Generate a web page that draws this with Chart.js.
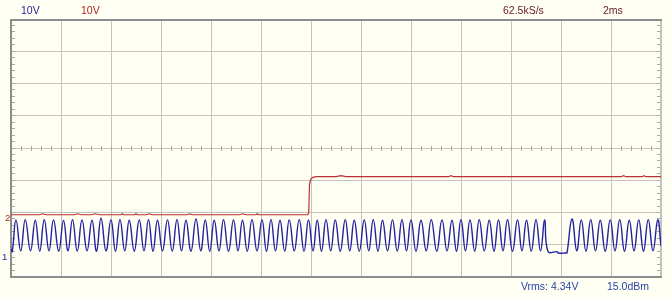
<!DOCTYPE html>
<html>
<head>
<meta charset="utf-8">
<script src="https://cdn.jsdelivr.net/npm/chart.js@4/dist/chart.umd.min.js"></script>
<style>
  body { margin: 0; background: #fffff3; }
  #wrap { position: relative; width: 672px; height: 299px; }
  .lbl { position: absolute; font: 10.5px "Liberation Sans", Arial, sans-serif; line-height: 12px; white-space: nowrap; }
  .mark { position: absolute; font: 9.5px "Liberation Sans", Arial, sans-serif; line-height: 10px; }
</style>
</head>
<body>
<div id="wrap">
  <canvas id="scope" width="672" height="299"></canvas>
  <div class="lbl" style="left:21px;top:4px;color:#1f1f8f">10V</div>
  <div class="lbl" style="left:81px;top:4px;color:#b22424">10V</div>
  <div class="lbl" style="left:503px;top:4px;color:#6a2030">62.5kS/s</div>
  <div class="lbl" style="left:603px;top:4px;color:#6a2030">2ms</div>
  <div class="lbl" style="left:521px;top:280px;color:#2a44a6">Vrms: 4.34V</div>
  <div class="lbl" style="left:607px;top:280px;color:#2a44a6">15.0dBm</div>
  <div class="mark" style="left:5px;top:213px;color:#b22424">2</div>
  <div class="mark" style="left:2px;top:252px;color:#1f1f8f">1</div>
</div>
<script>
// time in ms, 2 ms/div, 13 divisions
const timeTicks = [0, 2, 4, 6, 8, 10, 12, 14, 16, 18, 20, 22, 24, 26];

// channel 1 (blue), volts, read trough/peak by trough/peak
const ch1Times = [
  0.00, 0.05, 0.20, 0.39, 0.57, 0.78, 0.97, 1.15, 1.33, 1.52, 1.70, 1.91, 2.10, 2.28, 2.46, 2.65,
  2.84, 3.04, 3.24, 3.42, 3.60, 3.80, 4.00, 4.18, 4.36, 4.55, 4.73, 4.93, 5.13, 5.32, 5.50, 5.68,
  5.86, 6.06, 6.26, 6.45, 6.64, 6.82, 7.00, 7.20, 7.40, 7.59, 7.77, 7.95, 8.13, 8.32, 8.50, 8.70,
  8.90, 9.08, 9.26, 9.45, 9.64, 9.84, 10.04, 10.22, 10.40, 10.58, 10.76, 10.95, 11.13, 11.33, 11.53, 11.72,
  11.90, 12.08, 12.25, 12.42, 12.60, 12.79, 12.97, 13.17, 13.37, 13.55, 13.73, 13.93, 14.13, 14.31, 14.49, 14.68,
  14.86, 15.06, 15.26, 15.45, 15.64, 15.82, 16.00, 16.20, 16.40, 16.61, 16.81, 17.03, 17.24, 17.44, 17.64, 17.82,
  18.00, 18.18, 18.36, 18.55, 18.73, 18.93, 19.13, 19.32, 19.50, 19.68, 19.86, 20.06, 20.26, 20.44, 20.62, 20.81,
  21.00, 21.18, 21.35, 21.48, 21.84, 21.88, 22.20, 22.24, 22.44, 22.63, 22.81, 23.00, 23.19, 23.38, 23.57, 23.77,
  23.97, 24.16, 24.35, 24.54, 24.73, 24.92, 25.11, 25.30, 25.49, 25.68, 25.87, 26.00
];
const ch1Volts = [
  2.5, 1.7, 11.5, 1.9, 11.6, 1.9, 11.4, 1.8, 11.6, 1.9, 11.5, 1.8, 11.3, 1.9, 11.6, 1.8,
  11.5, 1.9, 11.4, 1.8, 12.0, 1.9, 11.5, 1.8, 11.6, 1.9, 11.4, 1.8, 11.5, 1.9, 11.6, 1.8,
  11.4, 1.9, 11.5, 1.8, 11.6, 1.9, 11.4, 1.8, 11.8, 1.9, 11.5, 1.8, 11.4, 1.9, 11.6, 1.8,
  11.5, 1.9, 11.4, 1.8, 11.6, 1.9, 11.5, 1.8, 11.6, 1.9, 11.4, 1.8, 11.5, 1.9, 11.6, 1.8,
  11.5, 1.9, 11.4, 1.8, 11.6, 1.9, 11.5, 1.8, 11.6, 1.9, 11.4, 1.8, 11.5, 1.9, 11.6, 1.8,
  11.4, 1.9, 11.5, 1.8, 11.6, 1.9, 11.5, 1.8, 11.4, 1.9, 11.6, 1.8, 11.5, 1.9, 11.4, 1.8,
  11.6, 1.9, 11.5, 1.8, 11.6, 1.9, 11.4, 1.8, 11.5, 1.9, 11.6, 1.8, 11.5, 1.9, 11.4, 1.8,
  11.6, 1.9, 11.5, 1.7, 1.65, 1.25, 1.25, 1.3, 11.8, 1.9, 11.5, 1.8, 11.6, 1.9, 11.4, 1.8,
  11.5, 1.9, 11.6, 1.8, 11.4, 1.9, 11.5, 1.8, 11.6, 1.9, 11.5, 3.4
];

// channel 2 (red), volts
const ch2Times = [
  0.00, 1.13, 1.27, 1.41, 2.53, 2.67, 2.81, 3.21, 3.37, 3.53, 4.40, 4.45, 4.50, 4.95, 5.00, 5.05,
  5.41, 5.53, 5.65, 7.05, 7.15, 7.25, 9.13, 9.27, 9.40, 9.80, 9.85, 9.90, 11.87, 11.91, 11.94, 11.99,
  12.07, 12.21, 13.00, 13.20, 13.40, 17.50, 17.60, 17.70, 24.40, 24.50, 24.60, 25.25, 25.32, 25.40, 26.00
];
const ch2Volts = [
  1.0, 1.0, 1.3, 1.0, 1.0, 1.3, 1.0, 1.0, 1.3, 1.0, 1.0, 1.3, 1.0, 1.0, 1.3, 1.0,
  1.0, 1.3, 1.0, 1.0, 1.3, 1.0, 1.0, 1.3, 1.0, 1.0, 1.3, 1.0, 1.0, 1.6, 10.5, 12.0,
  12.6, 12.8, 12.8, 13.1, 12.8, 12.8, 13.1, 12.8, 12.8, 13.1, 12.8, 12.8, 13.1, 12.8, 12.8
];

// ground markers, in divisions from the bottom of the screen
const ch1Offset = 0.62;
const ch2Offset = 1.83;
const voltsPerDiv = 10;

const toPoints = (ts, vs) => ts.map((t, i) => ({ x: t, y: vs[i] }));

const scopeDecor = {
  id: 'scopeDecor',
  beforeDatasetsDraw(chart) {
    const { ctx, chartArea: a, scales } = chart;
    const x = scales.x, y = scales.y;
    ctx.save();
    ctx.lineWidth = 1;
    ctx.strokeStyle = '#a9a9a1';
    ctx.beginPath();
    // small ticks on the centre line
    const cy = Math.round(y.getPixelForValue(4) - 0.5) + 0.5;
    for (let i = 1; i < 65; i++) {
      const px = Math.round(x.getPixelForValue(i * 0.4) - 0.5) + 0.5;
      ctx.moveTo(px, cy - 2.5);
      ctx.lineTo(px, cy + 2.5);
    }
    // small ticks on the left and right edges
    for (let i = 1; i < 40; i++) {
      const py = Math.round(y.getPixelForValue(i * 0.2) - 0.5) + 0.5;
      ctx.moveTo(a.left, py);
      ctx.lineTo(a.left + 4, py);
      ctx.moveTo(a.right - 4, py);
      ctx.lineTo(a.right, py);
    }
    ctx.stroke();

    ctx.lineWidth = 2;
    ctx.strokeStyle = '#8d8d8d';
    ctx.beginPath();
    ctx.moveTo(a.left, a.bottom + 1);
    ctx.lineTo(a.left, a.top);
    ctx.moveTo(a.left - 1, a.top + 1);
    ctx.lineTo(a.right + 1, a.top + 1);
    ctx.moveTo(a.left - 1, a.bottom);
    ctx.lineTo(a.right + 1, a.bottom);
    ctx.stroke();
    ctx.strokeStyle = '#c2c2c2';
    ctx.beginPath();
    ctx.moveTo(a.right, a.top + 2);
    ctx.lineTo(a.right, a.bottom - 1);
    ctx.stroke();
    ctx.restore();
  }
};

const ctx = document.getElementById('scope').getContext('2d');
const scopeChart = new Chart(ctx, {
  type: 'line',
  data: {
    datasets: [{
      label: 'CH2',
      data: toPoints(ch2Times, ch2Volts),
      yAxisID: 'y2',
      borderColor: '#b83232',
      borderWidth: 1.2,
      pointRadius: 0,
      tension: 0
    }, {
      label: 'CH1',
      data: toPoints(ch1Times, ch1Volts),
      yAxisID: 'y1',
      borderColor: '#2222a4',
      borderWidth: 1.4,
      pointRadius: 0,
      tension: 0.45
    }]
  },
  options: {
    responsive: false,
    animation: false,
    events: [],
    layout: { padding: { left: 11, right: 11, top: 19, bottom: 22 } },
    plugins: { legend: { display: false }, tooltip: { enabled: false } },
    scales: {
      x: {
        type: 'linear',
        min: timeTicks[0],
        max: timeTicks[timeTicks.length - 1],
        afterBuildTicks: (scale) => { scale.ticks = timeTicks.map(v => ({ value: v })); },
        ticks: { display: false },
        border: { display: false },
        grid: { color: '#c4c4bc', drawTicks: false }
      },
      y: {
        min: 0,
        max: 8,
        ticks: { display: false, stepSize: 1 },
        border: { display: false },
        grid: { color: '#c4c4bc', drawTicks: false }
      },
      y1: {
        display: false,
        min: -ch1Offset * voltsPerDiv,
        max: (8 - ch1Offset) * voltsPerDiv
      },
      y2: {
        display: false,
        min: -ch2Offset * voltsPerDiv,
        max: (8 - ch2Offset) * voltsPerDiv
      }
    }
  },
  plugins: [scopeDecor]
});
</script>
</body>
</html>
